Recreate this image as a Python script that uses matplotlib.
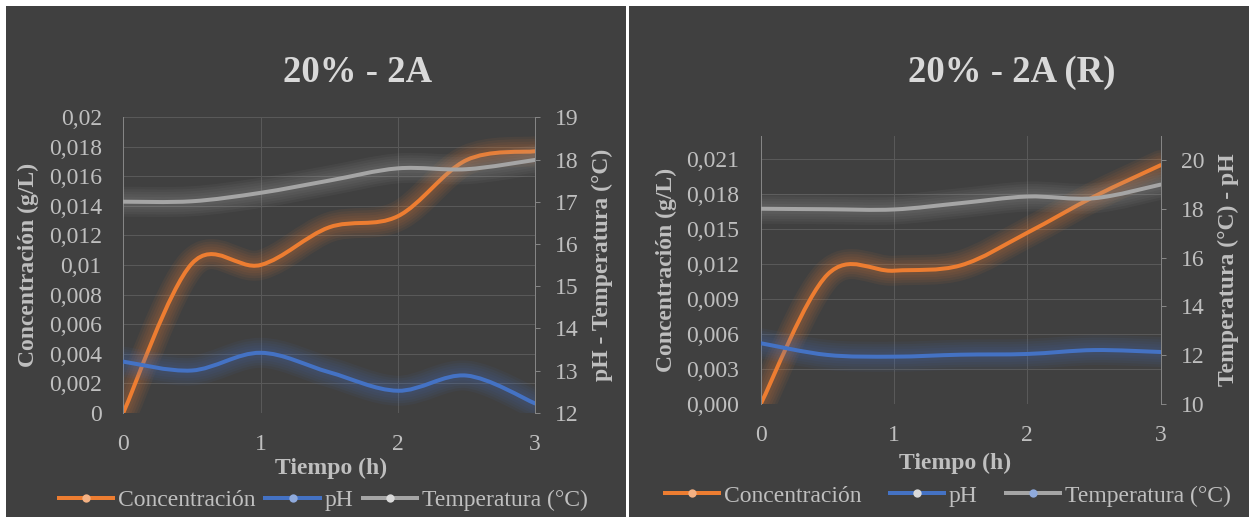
import numpy as np
import matplotlib
matplotlib.use("Agg")
import matplotlib.pyplot as plt
from matplotlib.path import Path
from matplotlib.patches import PathPatch, Rectangle
from matplotlib.lines import Line2D

plt.rcParams['font.family'] = ['Liberation Serif', 'DejaVu Serif']

# ---- data -------------------------------------------------------------
hours = [0, 0.5, 1, 1.5, 2, 2.5, 3]
hour_ticks = [0, 1, 2, 3]
hour_labels = ['0', '1', '2', '3']

# Run "20% - 2A"
conc_a = [0, 0.0101, 0.0100, 0.01255, 0.0133, 0.0171, 0.0177]
ph_a = [13.21, 13.0, 13.42, 12.96, 12.52, 12.88, 12.22]
temp_a = [17.0, 17.01, 17.21, 17.5, 17.79, 17.77, 17.99]
conc_ticks_a = [0, 0.002, 0.004, 0.006, 0.008, 0.01, 0.012, 0.014, 0.016, 0.018, 0.02]
conc_labels_a = ['0', '0,002', '0,004', '0,006', '0,008', '0,01', '0,012',
                 '0,014', '0,016', '0,018', '0,02']
right_ticks_a = [12, 13, 14, 15, 16, 17, 18, 19]

# Run "20% - 2A (R)"
conc_b = [0, 0.0111, 0.01144, 0.0119, 0.0147, 0.0178, 0.0205]
ph_b = [12.49, 12.01, 11.94, 12.02, 12.05, 12.21, 12.13]
temp_b = [18.0, 17.98, 17.97, 18.23, 18.5, 18.43, 18.99]
conc_ticks_b = [0, 0.003, 0.006, 0.009, 0.012, 0.015, 0.018, 0.021]
conc_labels_b = ['0,000', '0,003', '0,006', '0,009', '0,012', '0,015', '0,018', '0,021']
right_ticks_b = [10, 12, 14, 16, 18, 20]

# ---- style ------------------------------------------------------------
W, H = 1249, 517
BG = '#404040'
GRID = '#595959'
AXIS = '#858585'
TICK_TXT = '#bfbfbf'
LABEL_TXT = '#bfbfbf'
TITLE_TXT = '#d9d9d9'
ORANGE, BLUE, GRAY = '#ed7d31', '#4472c4', '#a5a5a5'
ORANGE_L, BLUE_L, GRAY_L = '#f4b183', '#8faadc', '#d9d9d9'
PX = 0.72  # points per pixel at 100 dpi

fig = plt.figure(figsize=(W / 100, H / 100), dpi=100, facecolor='white')


def fx(px):
    return px / W


def fy(py):
    return 1 - py / H


def smooth_path(x, y):
    """Bezier path through the points, with spreadsheet-style smoothing."""
    pts = np.column_stack([x, y]).astype(float)
    n = len(pts)
    verts = [pts[0]]
    codes = [Path.MOVETO]
    for i in range(n - 1):
        p_prev = pts[max(i - 1, 0)]
        p_next = pts[min(i + 2, n - 1)]
        c1 = pts[i] + (pts[i + 1] - p_prev) / 6
        c2 = pts[i + 1] - (p_next - pts[i]) / 6
        verts += [c1, c2, pts[i + 1]]
        codes += [Path.CURVE4] * 3
    return Path(verts, codes)


def draw_series(ax, x, y, color):
    path = smooth_path(x, y)
    for w in (30, 25, 20, 15, 10):
        ax.add_patch(PathPatch(path, fill=False, edgecolor=color, lw=w * PX,
                               alpha=0.065, capstyle='round', joinstyle='round'))
    ax.add_patch(PathPatch(path, fill=False, edgecolor=color, lw=4 * PX,
                           capstyle='round', joinstyle='round'))


def panel(px0, px1, title, title_x, box, conc, ph, temp,
          cticks, clabels, cmax, rticks, rmin, rmax,
          ylab_x, ylab_y, rlab_x, rlab_text, xlab_xy,
          legend_xy, legend_colsp, marker_cols):
    fig.add_artist(Rectangle((fx(px0), 0), fx(px1 - px0), fy(6), transform=fig.transFigure,
                             facecolor=BG, edgecolor='none', zorder=-10))
    fig.text(fx(title_x), fy(82), title, ha='center', va='baseline', fontsize=26.5,
             fontweight='bold', color=TITLE_TXT)

    left, top, right, bottom = box
    ax1 = fig.add_axes([fx(left), fy(bottom), fx(right - left), (bottom - top) / H])
    ax1.set_facecolor('none')
    draw_series(ax1, hours, conc, ORANGE)
    ax1.set_xlim(0, 3)
    ax1.set_ylim(0, cmax)
    ax1.set_xticks(hour_ticks)
    ax1.set_xticklabels(hour_labels)
    ax1.set_yticks(cticks)
    ax1.set_yticklabels(clabels)
    ax1.tick_params(axis='both', length=0, labelsize=17, labelcolor=TICK_TXT)
    ax1.tick_params(axis='y', pad=15.5)
    ax1.tick_params(axis='x', pad=15)
    ax1.grid(True, color=GRID, lw=1 * PX)
    ax1.set_axisbelow(True)
    for s in ('top', 'right', 'bottom'):
        ax1.spines[s].set_visible(False)
    ax1.spines['left'].set_color(AXIS)
    ax1.spines['left'].set_linewidth(1 * PX)

    ax2 = ax1.twinx()
    draw_series(ax2, hours, ph, BLUE)
    draw_series(ax2, hours, temp, GRAY)
    ax2.set_ylim(rmin, rmax)
    ax2.set_yticks(rticks)
    ax2.tick_params(axis='y', direction='out', length=5 * PX, width=1 * PX, color=AXIS,
                    labelsize=17, labelcolor=TICK_TXT, pad=11)
    for s in ('top', 'left', 'bottom'):
        ax2.spines[s].set_visible(False)
    ax2.spines['right'].set_color(AXIS)
    ax2.spines['right'].set_linewidth(1 * PX)

    fig.text(fx(ylab_x), fy(ylab_y), 'Concentración (g/L)', rotation=90, ha='center',
             va='center', fontsize=17, fontweight='bold', color=LABEL_TXT)
    fig.text(fx(rlab_x), fy(ylab_y), rlab_text, rotation=90, ha='center',
             va='center', fontsize=17, fontweight='bold', color=LABEL_TXT)
    fig.text(fx(xlab_xy[0]), fy(xlab_xy[1]), 'Tiempo (h)', ha='center', va='center',
             fontsize=17, fontweight='bold', color=LABEL_TXT)

    handles = [Line2D([], [], color=c, lw=4 * PX, marker='o', markersize=6,
                      markerfacecolor=m, markeredgecolor='none')
               for c, m in zip((ORANGE, BLUE, GRAY), marker_cols)]
    fig.legend(handles, ['Concentración', 'pH', 'Temperatura (°C)'], loc='center',
               bbox_to_anchor=(fx(legend_xy[0]), fy(legend_xy[1])), ncol=3,
               frameon=False, fontsize=17, labelcolor=TICK_TXT, handlelength=2.3,
               handletextpad=0.2, columnspacing=legend_colsp, borderpad=0)


panel(6, 626, '20% - 2A', 358, (123.3, 117.3, 535, 412.7), conc_a, ph_a, temp_a,
      conc_ticks_a, conc_labels_a, 0.02, right_ticks_a, 12, 19,
      28.5, 265, 602, 'pH - Temperatura (°C)', (331, 468),
      (323.5, 500), 0.42, (ORANGE_L, BLUE_L, GRAY_L))

panel(629, 1249, '20% - 2A (R)', 1012, (760.7, 136, 1160.7, 404), conc_b, ph_b, temp_b,
      conc_ticks_b, conc_labels_b, 0.0230, right_ticks_b, 10, 20.98,
      666, 270, 1228, 'Temperatura (°C) - pH', (955, 463),
      (948, 496), 1.2, (ORANGE_L, GRAY_L, BLUE_L))

fig.savefig('out.png', dpi=100, facecolor='white')
